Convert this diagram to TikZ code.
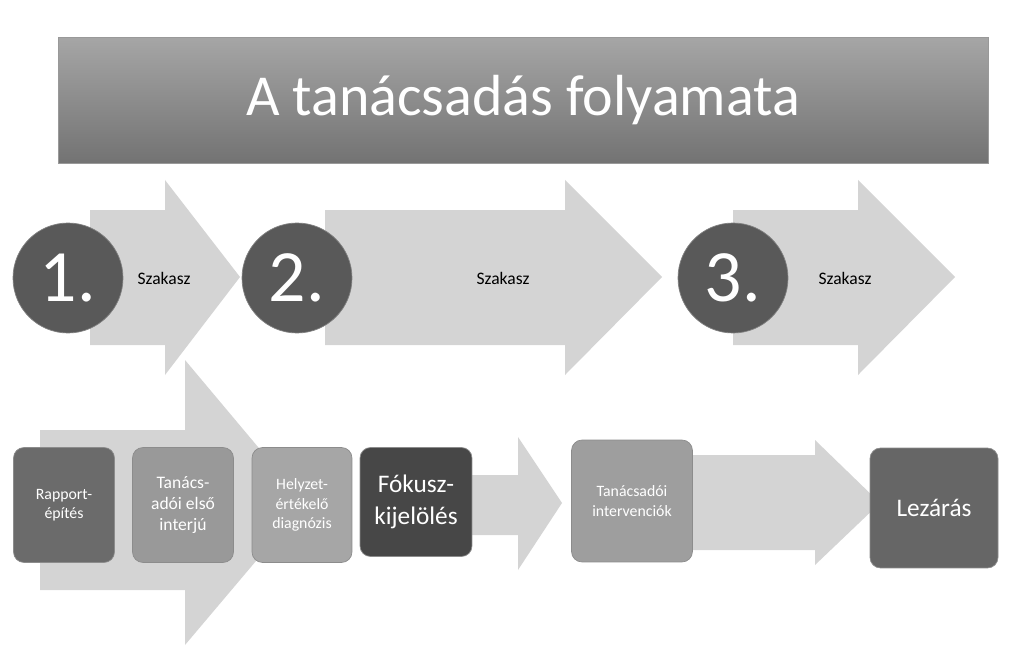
\documentclass[tikz,border=0pt]{standalone}
\usepackage{fontspec}
\setmainfont{Carlito}
\begin{document}
\begin{tikzpicture}[x=0.02cm,y=-0.02cm,
    arrowshape/.style={fill=black!17},
    stepbox/.style={rounded corners=6pt,draw=black!45,text=white,align=center,font=\small},
    numdisc/.style={circle,fill=black!65,draw=black!50,minimum size=2.2cm,text=white,font=\fontsize{42}{42}\selectfont},
    phase/.style={font=\normalsize}]
        % Frame
        \useasboundingbox (0,0) rectangle (1023,655);
        % Title bar
        \node[draw=black!40,top color=black!35,bottom color=black!55,minimum width=18.6cm,minimum height=2.52cm,
              text=white,font=\fontsize{33}{33}\selectfont] (title) at (523,100) {A tanácsadás folyamata};
        % Upper arrows
        \fill[arrowshape] (90,210) -- (165,210) -- (165,180) -- (240,277) -- (165,375) -- (165,345) -- (90,345) -- cycle;
        \fill[arrowshape] (325,210) -- (565,210) -- (565,180) -- (662,277) -- (565,375) -- (565,345) -- (325,345) -- cycle;
        \fill[arrowshape] (733,210) -- (858,210) -- (858,180) -- (955,277) -- (858,375) -- (858,345) -- (733,345) -- cycle;
        % Phase numbers
        \node[numdisc] (one) at (68,278) {1.};
        \node[numdisc] (two) at (297,278) {2.};
        \node[numdisc] (three) at (733,278) {3.};
        \node[phase] (p1) at (164,278) {Szakasz};
        \node[phase] (p2) at (503,278) {Szakasz};
        \node[phase] (p3) at (845,278) {Szakasz};
        % Lower arrows
        \fill[arrowshape] (40,430) -- (185,430) -- (185,360) -- (305,503) -- (185,645) -- (185,590) -- (40,590) -- cycle;
        \fill[arrowshape] (472,475) -- (518,475) -- (518,437) -- (562,503) -- (518,570) -- (518,535) -- (472,535) -- cycle;
        \fill[arrowshape] (693,455) -- (815,455) -- (815,440) -- (880,503) -- (815,565) -- (815,550) -- (693,550) -- cycle;
        % Steps
        \node[stepbox,fill=black!58,minimum width=2.02cm,minimum height=2.3cm] (rapport) at (64,505) {Rapport-\\építés};
        \node[stepbox,fill=black!40,minimum width=2.02cm,minimum height=2.3cm,font=\normalsize] (interju) at (183,505) {Tanács-\\adói első\\interjú};
        \node[stepbox,fill=black!35,minimum width=2.0cm,minimum height=2.3cm] (helyzet) at (302,505) {Helyzet-\\értékelő\\diagnózis};
        \node[stepbox,fill=black!72,minimum width=2.24cm,minimum height=2.18cm,font=\Large] (fokusz) at (416,502) {Fókusz-\\kijelölés};
        \node[stepbox,fill=black!38,minimum width=2.42cm,minimum height=2.44cm] (interv) at (632,501) {Tanácsadói\\intervenciók};
        \node[stepbox,fill=black!60,minimum width=2.56cm,minimum height=2.4cm,font=\Large] (lezaras) at (934,508) {Lezárás};
\end{tikzpicture}
\end{document}
